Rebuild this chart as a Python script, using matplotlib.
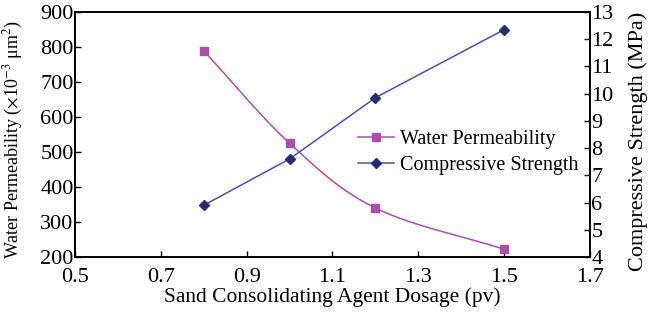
import matplotlib.pyplot as plt
import numpy as np

dosage = [0.8, 1.0, 1.2, 1.5]
permeability = [789, 525, 340, 222]
strength = [5.9, 7.6, 9.85, 12.35]

x_ticks = [0.5, 0.7, 0.9, 1.1, 1.3, 1.5, 1.7]


def smooth(xs, ys, n=30):
    """Catmull-Rom style smoothing of a polyline (drawing only)"""
    xs = np.asarray(xs, float)
    ys = np.asarray(ys, float)
    px = np.concatenate([[2 * xs[0] - xs[1]], xs, [2 * xs[-1] - xs[-2]]])
    py = np.concatenate([[2 * ys[0] - ys[1]], ys, [2 * ys[-1] - ys[-2]]])
    out_x, out_y = [], []
    t = np.linspace(0, 1, n)
    for i in range(1, len(px) - 2):
        for p, out in ((px, out_x), (py, out_y)):
            p0, p1, p2, p3 = p[i - 1], p[i], p[i + 1], p[i + 2]
            seg = 0.5 * ((2 * p1) + (-p0 + p2) * t
                         + (2 * p0 - 5 * p1 + 4 * p2 - p3) * t ** 2
                         + (-p0 + 3 * p1 - 3 * p2 + p3) * t ** 3)
            out.extend(seg)
    return out_x, out_y


plt.rcParams['font.family'] = ['Liberation Serif', 'DejaVu Serif']
plt.rcParams['mathtext.fontset'] = 'stix'

fig = plt.figure(figsize=(6.48, 3.14), dpi=100)
ax = fig.add_axes([0.1157, 0.1815, 0.7948, 0.7805])
ax2 = ax.twinx()

c_perm = '#a850aa'
c_line = '#4b50aa'
c_dia = '#262c6e'

sx, sy = smooth(dosage, permeability)
ax.plot(sx, sy, color=c_perm, lw=1.1)
ax.plot(dosage, permeability, ls='none', marker='s', ms=6, color=c_perm)
ax2.plot(dosage, strength, color=c_line, lw=1.1)
ax2.plot(dosage, strength, ls='none', marker='D', ms=5, color=c_dia)

ax.set_xlim(0.5, 1.7)
ax.set_ylim(200, 900)
ax2.set_ylim(4, 13)
ax.set_xticks(x_ticks)
ax.set_xticklabels([f"{v:.1f}" for v in x_ticks])
ax.set_yticks(range(200, 901, 100))
ax2.set_yticks(range(4, 14))

for a in (ax, ax2):
    a.tick_params(direction='in', labelsize=16, length=4, width=1, pad=1)
    for s in a.spines.values():
        s.set_linewidth(1.2)
ax.tick_params(axis='x', pad=8)

ax.set_xlabel("Sand Consolidating Agent Dosage (pv)", fontsize=15.5, labelpad=0)
ax.set_ylabel(r"Water Permeability ($\times$10$^{-3}$ μm$^2$)", fontsize=13,
              labelpad=0)
ax.yaxis.set_label_coords(-0.097, 0.48)
ax2.set_ylabel("Compressive Strength (MPa)", fontsize=16, labelpad=0)
ax2.yaxis.set_label_coords(1.075, 0.47)

h1, = ax.plot([], [], color=c_perm, lw=1.1, marker='s', ms=6)
h2, = ax.plot([], [], color=c_line, lw=1.1, marker='D', ms=5, mfc=c_dia, mec=c_dia)
ax.legend([h1, h2], ["Water Permeability", "Compressive Strength"],
          loc='upper left', bbox_to_anchor=(0.53, 0.56), frameon=False,
          fontsize=14.5, handlelength=1.8, handletextpad=0.3, labelspacing=0.35,
          borderpad=0)

fig.savefig("out.png", dpi=100)
